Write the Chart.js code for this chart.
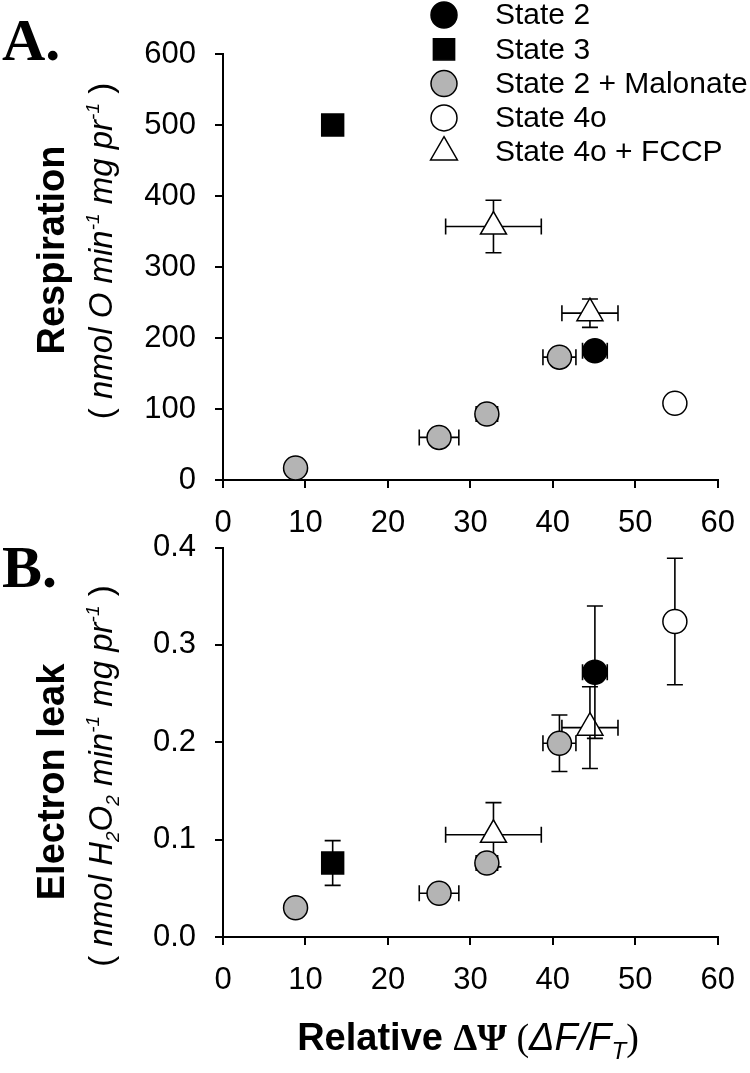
<!DOCTYPE html>
<html>
<head>
<meta charset="utf-8">
<script src="https://cdn.jsdelivr.net/npm/chart.js@4.4.0/dist/chart.umd.min.js"></script>
<style>
  html, body { margin: 0; padding: 0; background: #fff; }
  #wrap { position: relative; width: 750px; height: 1073px; overflow: hidden; }
  canvas { position: absolute; left: 0; }
  #chartA { top: 0; }
  #chartB { top: 513px; }
</style>
</head>
<body>
<div id="wrap">
  <canvas id="chartA" width="755" height="540"></canvas>
  <canvas id="chartB" width="755" height="560"></canvas>
</div>
<script>
const seriesNames = ['State 2', 'State 3', 'State 2 + Malonate', 'State 4o', 'State 4o + FCCP'];

// axis ticks
const dpsiTicks = [0, 10, 20, 30, 40, 50, 60];
const respTicks = [0, 100, 200, 300, 400, 500, 600];
const leakTicks = [0, 0.1, 0.2, 0.3, 0.4];

// relative delta psi (x), shared by both panels
const dpsiState2 = [45.1];
const dpsiState3 = [13.3];
const dpsiMalonate = [8.8, 26.2, 32.0, 40.8];
const dpsiState4o = [54.8];
const dpsiFccp = [32.8, 44.5];

const dpsiErrState2 = [1.5];
const dpsiErrState3 = [1.2];
const dpsiErrMalonate = [0, 2.4, 1.3, 2.0];
const dpsiErrState4o = [0];
const dpsiErrFccp = [5.8, 3.4];

// panel A: respiration
const respState2 = [182];
const respState3 = [500];
const respMalonate = [17, 60, 93, 173];
const respState4o = [108];
const respFccp = [357, 235];

const respErrState2 = [0];
const respErrState3 = [0];
const respErrMalonate = [0, 0, 0, 0];
const respErrState4o = [0];
const respErrFccp = [37, 20];

// panel B: electron leak
const leakState2 = [0.272];
const leakState3 = [0.076];
const leakMalonate = [0.030, 0.045, 0.076, 0.199];
const leakState4o = [0.324];
const leakFccp = [0.105, 0.215];

const leakErrState2 = [0.068];
const leakErrState3 = [0.023];
const leakErrMalonate = [0, 0, 0, 0.029];
const leakErrState4o = [0.065];
const leakErrFccp = [0.033, 0.042];

const SANS = "'Liberation Sans', Arial, sans-serif";
const SERIF = "'Liberation Serif', 'Times New Roman', serif";

const xLists = [dpsiState2, dpsiState3, dpsiMalonate, dpsiState4o, dpsiFccp];
const xErrLists = [dpsiErrState2, dpsiErrState3, dpsiErrMalonate, dpsiErrState4o, dpsiErrFccp];

const markers = [
    { style: 'circle', radius: 12, fill: '#000000', legendRadius: 13 },
    { style: 'rect', radius: 15.5, fill: '#000000', legendRadius: 15 },
    { style: 'circle', radius: 12, fill: '#b4b4b4', legendRadius: 13 },
    { style: 'circle', radius: 12, fill: '#ffffff', legendRadius: 13 },
    { style: 'triangle', radius: 15, fill: '#ffffff', legendRadius: 15.5 }
];

Chart.defaults.font.family = SANS;
Chart.defaults.color = '#000';

function buildDatasets(yLists, yErrLists) {
    return seriesNames.map((name, i) => ({
        label: name,
        data: xLists[i].map((x, j) => ({ x: x, y: yLists[i][j] })),
        xErr: xErrLists[i],
        yErr: yErrLists[i],
        pointStyle: markers[i].style,
        pointRadius: markers[i].radius,
        pointHoverRadius: markers[i].radius,
        backgroundColor: markers[i].fill,
        borderColor: '#000',
        borderWidth: 1.5,
        showLine: false
    }));
}

// error bars drawn under each dataset's own markers
const errorBars = {
    id: 'errorBars',
    beforeDatasetDraw(chart, args) {
        const ds = chart.data.datasets[args.index];
        const xs = chart.scales.x, ys = chart.scales.y;
        const ctx = chart.ctx;
        const cap = 8;
        ctx.save();
        ctx.strokeStyle = '#000';
        ctx.lineWidth = 1.6;
        ds.data.forEach((p, j) => {
            const px = xs.getPixelForValue(p.x);
            const py = ys.getPixelForValue(p.y);
            const ex = ds.xErr[j], ey = ds.yErr[j];
            ctx.beginPath();
            if (ex) {
                const x1 = xs.getPixelForValue(p.x - ex), x2 = xs.getPixelForValue(p.x + ex);
                ctx.moveTo(x1, py); ctx.lineTo(x2, py);
                ctx.moveTo(x1, py - cap); ctx.lineTo(x1, py + cap);
                ctx.moveTo(x2, py - cap); ctx.lineTo(x2, py + cap);
            }
            if (ey) {
                const y1 = ys.getPixelForValue(p.y - ey), y2 = ys.getPixelForValue(p.y + ey);
                ctx.moveTo(px, y1); ctx.lineTo(px, y2);
                ctx.moveTo(px - cap, y1); ctx.lineTo(px + cap, y1);
                ctx.moveTo(px - cap, y2); ctx.lineTo(px + cap, y2);
            }
            ctx.stroke();
        });
        ctx.restore();
    }
};

// text with mixed fonts, sub/superscripts; centered on (cx, cy)
function drawRich(ctx, segs, cx, cy, vertical) {
    ctx.save();
    ctx.translate(cx, cy);
    if (vertical) ctx.rotate(-Math.PI / 2);
    ctx.fillStyle = '#000';
    ctx.textAlign = 'left';
    ctx.textBaseline = 'alphabetic';
    let total = 0;
    segs.forEach(s => { ctx.font = s.font; total += ctx.measureText(s.text).width; });
    let x = -total / 2;
    segs.forEach(s => {
        ctx.font = s.font;
        ctx.fillText(s.text, x, s.dy || 0);
        x += ctx.measureText(s.text).width;
    });
    ctx.restore();
}

function panelText(letter, letterY, title, titleY, subtitle, subY, extra) {
    return {
        id: 'panelText',
        afterDraw(chart) {
            const ctx = chart.ctx;
            ctx.save();
            ctx.fillStyle = '#000';
            ctx.font = `bold 60px ${SERIF}`;
            ctx.textBaseline = 'alphabetic';
            ctx.fillText(letter, 2, letterY);
            ctx.restore();
            drawRich(ctx, [{ text: title, font: `bold 38px ${SANS}` }], 64, titleY, true);
            drawRich(ctx, subtitle, 112, subY, true);
            if (extra) extra(chart);
        }
    };
}

const it = s => `italic ${s}px ${SANS}`;
const sup = t => ({ text: t, font: it(19), dy: -13 });
const sub = t => ({ text: t, font: it(19), dy: 7 });

const subtitleA = [
    { text: '( ', font: `33px ${SANS}` },
    { text: 'nmol O min', font: it(33) }, sup('-1'),
    { text: ' mg pr', font: it(33) }, sup('-1'),
    { text: ' )', font: `33px ${SANS}` }
];
const subtitleB = [
    { text: '( ', font: `33px ${SANS}` },
    { text: 'nmol H', font: it(33) }, sub('2'),
    { text: 'O', font: it(33) }, sub('2'),
    { text: ' min', font: it(33) }, sup('-1'),
    { text: ' mg pr', font: it(33) }, sup('-1'),
    { text: ' )', font: `33px ${SANS}` }
];
const xTitle = [
    { text: 'Relative ', font: `bold 38px ${SANS}` },
    { text: 'ΔΨ', font: `bold 38px ${SERIF}` },
    { text: ' (', font: `38px ${SERIF}` },
    { text: 'ΔF/F', font: it(38) },
    { text: 'T', font: it(24), dy: 9 },
    { text: ')', font: `38px ${SERIF}` }
];

function drawLegend(chart) {
    const ctx = chart.ctx;
    ctx.save();
    chart.data.datasets.forEach((ds, i) => {
        const y = 15 + i * 34.3;
        ctx.fillStyle = markers[i].fill;
        ctx.strokeStyle = '#000';
        ctx.lineWidth = 1.5;
        Chart.helpers.drawPoint(ctx, { pointStyle: markers[i].style, radius: markers[i].legendRadius, borderWidth: 1.5, rotation: 0 }, 444, y);
        ctx.fillStyle = '#000';
        ctx.font = `30px ${SANS}`;
        ctx.textAlign = 'left';
        ctx.textBaseline = 'middle';
        ctx.fillText(ds.label, 495, y + 1);
    });
    ctx.restore();
}

function makeChart(id, datasets, yTicks, yFmt, padTop, xHeight, plugin) {
    return new Chart(document.getElementById(id), {
        type: 'scatter',
        data: { datasets: datasets },
        plugins: [errorBars, plugin],
        options: {
            responsive: false,
            animation: false,
            layout: { padding: { top: padTop, right: 32, left: 0, bottom: 0 } },
            plugins: { legend: { display: false }, tooltip: { enabled: false } },
            scales: {
                x: {
                    type: 'linear',
                    min: dpsiTicks[0],
                    max: dpsiTicks[dpsiTicks.length - 1],
                    afterBuildTicks: s => { s.ticks = dpsiTicks.map(v => ({ value: v })); },
                    afterFit: s => { s.height = xHeight; },
                    border: { color: '#000', width: 2 },
                    grid: { drawOnChartArea: false, tickLength: 8, color: '#000', lineWidth: 2 },
                    ticks: { autoSkip: false, maxRotation: 0, padding: 20, color: '#000',
                        font: { size: 31, lineHeight: 1 }, callback: v => String(v) }
                },
                y: {
                    type: 'linear',
                    min: yTicks[0],
                    max: yTicks[yTicks.length - 1],
                    afterBuildTicks: s => { s.ticks = yTicks.map(v => ({ value: v })); },
                    afterFit: s => { s.width = 223; },
                    border: { color: '#000', width: 2 },
                    grid: { drawOnChartArea: false, tickLength: 8, color: '#000', lineWidth: 2 },
                    ticks: { autoSkip: false, padding: 19, color: '#000',
                        font: { size: 31, lineHeight: 1 }, callback: yFmt }
                }
            }
        }
    });
}

makeChart('chartA',
    buildDatasets(
        [respState2, respState3, respMalonate, respState4o, respFccp],
        [respErrState2, respErrState3, respErrMalonate, respErrState4o, respErrFccp]),
    respTicks, v => String(v), 54, 60,
    panelText('A.', 60, 'Respiration', 250, subtitleA, 251, drawLegend));

// canvas B starts at 513 px on the page
makeChart('chartB',
    buildDatasets(
        [leakState2, leakState3, leakMalonate, leakState4o, leakFccp],
        [leakErrState2, leakErrState3, leakErrMalonate, leakErrState4o, leakErrFccp]),
    leakTicks, v => Number(v).toFixed(1), 0, 136,
    panelText('B.', 74, 'Electron leak', 269, subtitleB, 263, chart => {
        drawRich(chart.ctx, xTitle, 468, 537, false);
    }));
</script>
</body>
</html>
